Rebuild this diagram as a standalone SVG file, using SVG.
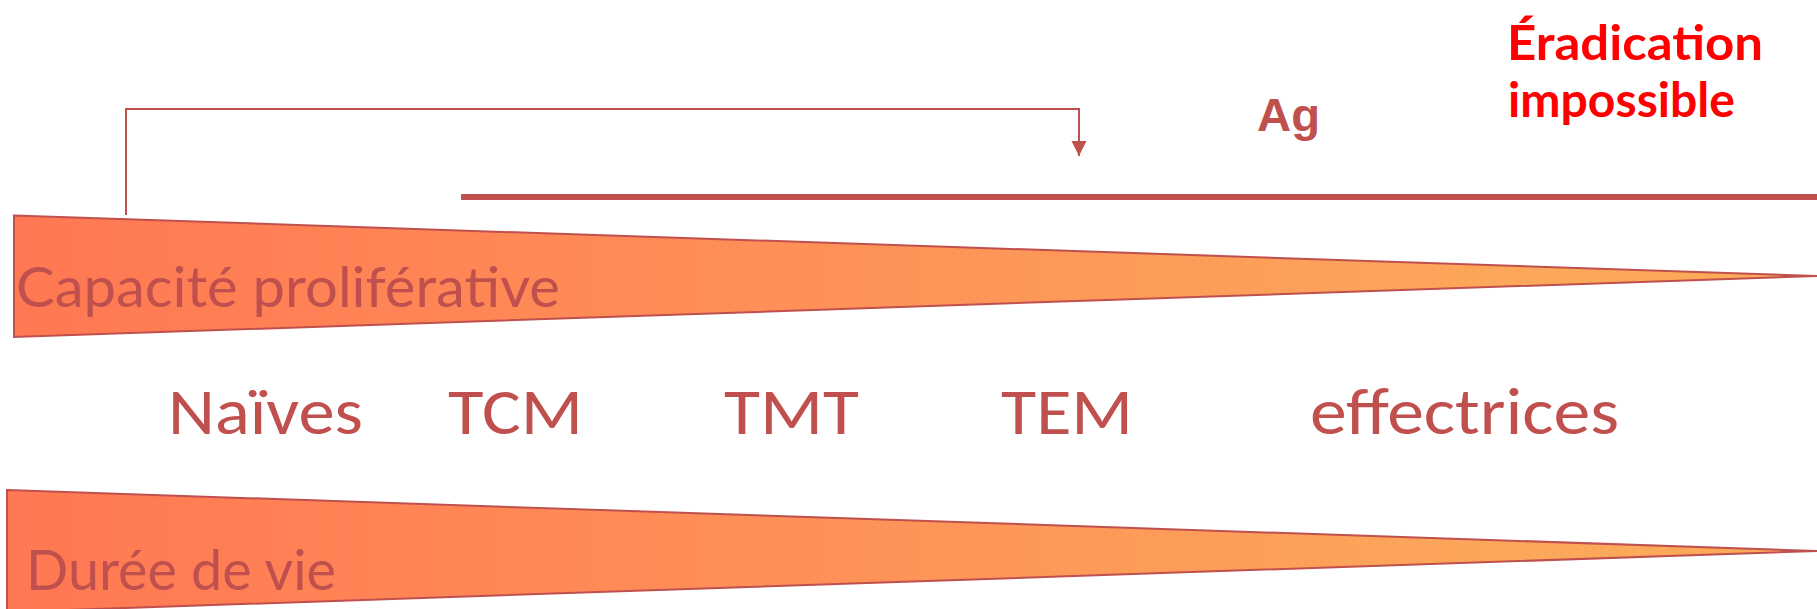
<svg xmlns="http://www.w3.org/2000/svg" width="1817" height="609" viewBox="0 0 1817 609">
  <style>
    .wedge { stroke: #C0504D; stroke-width: 2; stroke-linejoin: miter; }
    .comic { font-family: "Comic Sans MS", "Lato", "DejaVu Sans", sans-serif; fill: #C0504D; font-size: 56px; }
    .cell { font-family: "Calibri", "Carlito", "Lato", "Liberation Sans", sans-serif; fill: #C0504D; font-size: 66px; }
    .ag { font-family: "Liberation Sans", Arial, sans-serif; font-weight: bold; fill: #C0504D; font-size: 47px; }
    .erad { font-family: "Comic Sans MS", "Lato", "DejaVu Sans", sans-serif; font-weight: bold; fill: #FF0000; font-size: 47px; }
    .conn { fill: none; stroke: #C0504D; stroke-width: 2; }
  </style>
  <defs>
    <linearGradient id="grad" gradientUnits="userSpaceOnUse" x1="10" y1="0" x2="1817" y2="0">
      <stop offset="0" stop-color="#FF7853"/>
      <stop offset="0.45" stop-color="#FE9158"/>
      <stop offset="0.85" stop-color="#FCA85A"/>
      <stop offset="1" stop-color="#FCAA5A"/>
    </linearGradient>
    <marker id="arrow" markerUnits="userSpaceOnUse" markerWidth="16" markerHeight="16" refX="15" refY="7.5" orient="auto" viewBox="0 0 16 15">
      <polygon points="0,0 15,7.5 0,15" fill="#C0504D"/>
    </marker>
  </defs>
  <rect width="1817" height="609" fill="#FFFFFF"/>

  <g id="capacite">
    <polygon class="wedge" fill="url(#grad)" points="14,215.5 1817,276 14,337"/>
    <text class="comic" x="16" y="307" textLength="544" lengthAdjust="spacingAndGlyphs">Capacité proliférative</text>
  </g>

  <g id="duree">
    <polygon class="wedge" fill="url(#grad)" points="7,490 1817,551 7,612"/>
    <text class="comic" x="26" y="590" textLength="310" lengthAdjust="spacingAndGlyphs">Durée de vie</text>
  </g>

  <g id="ag-line">
    <line x1="461" y1="197" x2="1817" y2="197" stroke="#C0504D" stroke-width="6"/>
  </g>

  <g id="connectors">
    <path class="conn" d="M126,215 V109 H1079 V156" marker-end="url(#arrow)"/>
  </g>

  <g id="ag">
    <text class="ag" x="1257" y="131" textLength="63" lengthAdjust="spacingAndGlyphs">Ag</text>
  </g>

  <g id="eradication">
    <text class="erad" x="1507" y="60" textLength="256" lengthAdjust="spacingAndGlyphs">Éradication</text>
    <text class="erad" x="1508" y="117" textLength="227" lengthAdjust="spacingAndGlyphs">impossible</text>
  </g>

  <g id="naives">
    <text class="cell" x="168" y="434" textLength="195" lengthAdjust="spacingAndGlyphs">Naïves</text>
  </g>
  <g id="tcm">
    <text class="cell" x="448" y="434" textLength="135" lengthAdjust="spacingAndGlyphs">TCM</text>
  </g>
  <g id="tmt">
    <text class="cell" x="724" y="434" textLength="135" lengthAdjust="spacingAndGlyphs">TMT</text>
  </g>
  <g id="tem">
    <text class="cell" x="1001" y="434" textLength="132" lengthAdjust="spacingAndGlyphs">TEM</text>
  </g>
  <g id="effectrices">
    <text class="cell" x="1310" y="434" textLength="309" lengthAdjust="spacingAndGlyphs">effectrices</text>
  </g>
</svg>
